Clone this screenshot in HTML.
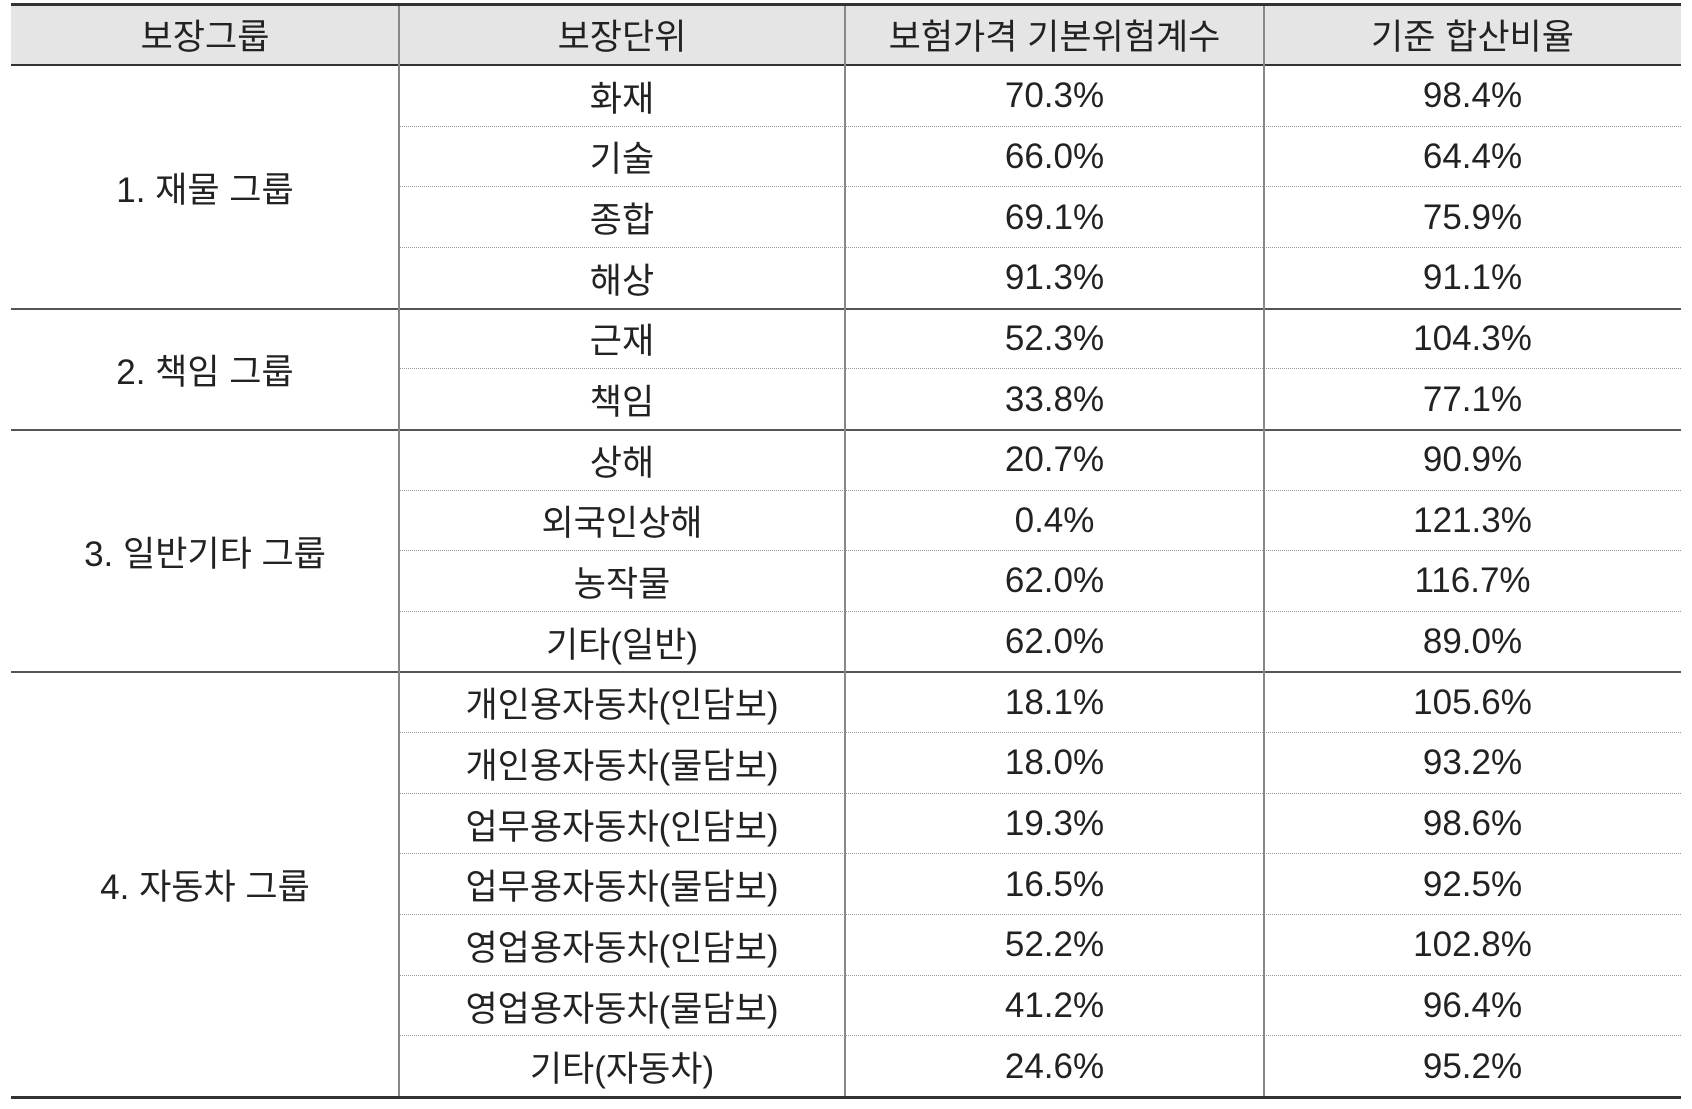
<!DOCTYPE html>
<html><head><meta charset="utf-8"><style>
html,body{margin:0;padding:0;background:#fff;}
body{width:1692px;height:1109px;position:relative;overflow:hidden;font-family:"Liberation Sans","Noto Sans CJK KR",sans-serif;color:#222;}
.c{position:absolute;text-align:center;font-size:35px;white-space:nowrap;display:flex;align-items:center;justify-content:center;}
.h{position:absolute;left:11px;width:1670px;}
.v{position:absolute;width:2px;background:#888;}
</style></head><body>
<div id="root"></div>
<script>
const groups=[["1. 재물 그룹",4],["2. 책임 그룹",2],["3. 일반기타 그룹",4],["4. 자동차 그룹",7]];
const units=["화재","기술","종합","해상","근재","책임","상해","외국인상해","농작물","기타(일반)","개인용자동차(인담보)","개인용자동차(물담보)","업무용자동차(인담보)","업무용자동차(물담보)","영업용자동차(인담보)","영업용자동차(물담보)","기타(자동차)"];
const coef=["70.3%","66.0%","69.1%","91.3%","52.3%","33.8%","20.7%","0.4%","62.0%","62.0%","18.1%","18.0%","19.3%","16.5%","52.2%","41.2%","24.6%"];
const ratio=["98.4%","64.4%","75.9%","91.1%","104.3%","77.1%","90.9%","121.3%","116.7%","89.0%","105.6%","93.2%","98.6%","92.5%","102.8%","96.4%","95.2%"];
const headers=["보장그룹","보장단위","보험가격 기본위험계수","기준 합산비율"];
const root=document.getElementById('root');
const X=[11,399,845,1264,1681],T=66,RH=(1097-66)/17;
function add(cls,st,txt){const d=document.createElement('div');d.className=cls;Object.assign(d.style,st);if(txt!=null)d.textContent=txt;root.appendChild(d);return d;}
add('h',{background:'#e5e5e5',top:'5px',height:'59px'});
headers.forEach((t,i)=>{const d=add('c',{left:X[i]+'px',width:(X[i+1]-X[i])+'px',top:'5px',height:'59px'},t);

});
add('h',{top:'3px',height:'3px',background:'#333'});
add('h',{top:'64px',height:'2px',background:'#333'});
let r=0;
groups.forEach((g,gi)=>{
 const d=add('c',{left:X[0]+'px',width:(X[1]-X[0])+'px',top:(T+r*RH)+'px',height:(g[1]*RH)+'px'},g[0]);
 
 
 for(let k=0;k<g[1];k++){
  const y=T+(r+k)*RH;
  [units,coef,ratio].forEach((arr,ci)=>{const c=add('c',{left:X[ci+1]+'px',width:(X[ci+2]-X[ci+1])+'px',top:y+'px',height:RH+'px'},arr[r+k]);
   
   });
  if(k<g[1]-1) add('h',{left:X[1]+'px',width:(X[4]-X[1])+'px',top:(y+RH-1)+'px',height:'0',borderTop:'1px dotted #999'});
 }
 r+=g[1];
 if(gi<groups.length-1) add('h',{top:(T+r*RH-1)+'px',height:'2px',background:'#555'});
});
add('h',{top:'1096px',height:'3px',background:'#333'});
for(let i=1;i<4;i++) add('v',{left:(X[i]-1)+'px',top:'6px',height:'1090px'});
</script>
</body></html>
